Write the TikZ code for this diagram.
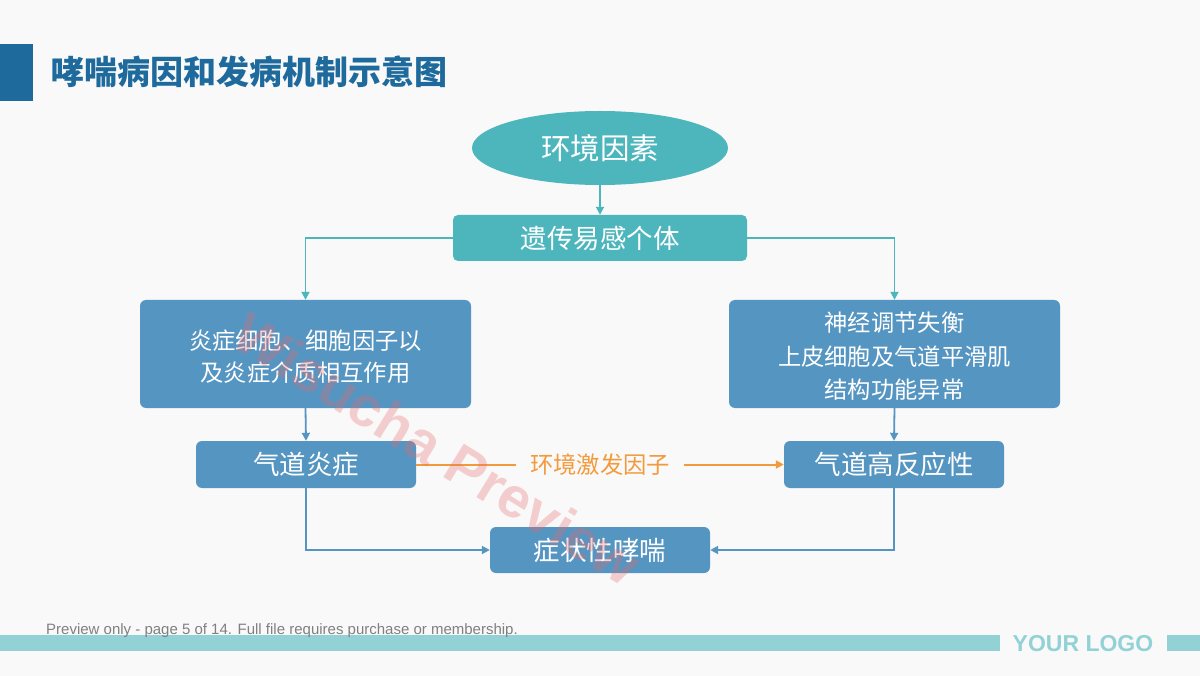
\documentclass[tikz,border=0pt]{standalone}
\usepackage{fontspec}
\setmainfont{Liberation Sans}
\newfontfamily\cjk{Noto Sans CJK SC}
\usetikzlibrary{arrows.meta,shapes.geometric}
\definecolor{bg}{HTML}{F9F9F9}
\definecolor{titleblue}{HTML}{1E6A9C}
\definecolor{tealc}{HTML}{4DB6BD}
\definecolor{bluec}{HTML}{5595C2}
\definecolor{orangec}{HTML}{F39A3C}
\definecolor{logoteal}{HTML}{92D2D6}
\definecolor{wmark}{HTML}{E86A6A}
\tikzset{
  tealbox/.style={fill=tealc, rounded corners=5pt, text=white, inner sep=0pt, font=\cjk\fontsize{26.5}{30}\selectfont},
  bluebox/.style={fill=bluec, rounded corners=6pt, text=white, inner sep=0pt, align=center},
  tealline/.style={draw=tealc, line width=1.8pt, -{Triangle[length=8pt,width=8pt]}},
  blueline/.style={draw=bluec, line width=1.8pt, -{Triangle[length=8pt,width=8pt]}},
  orangeline/.style={draw=orangec, line width=2pt, -{Triangle[length=8pt,width=8pt]}},
}
\begin{document}
\begin{tikzpicture}[x=1pt,y=-1pt]
\useasboundingbox (0,0) rectangle (1200,676);
\fill[bg] (0,0) rectangle (1200,676);
% header
\fill[titleblue] (0,44) rectangle (33,101);
\node[anchor=west, inner sep=0pt, text=titleblue, font=\cjk\bfseries\fontsize{33}{36}\selectfont] (title) at (51,72) {哮喘病因和发病机制示意图};
% nodes
\node[ellipse, fill=tealc, minimum width=256pt, minimum height=74pt, inner sep=0pt, text=white, font=\cjk\fontsize{29.5}{32}\selectfont] (env) at (600,148) {环境因素};
\node[tealbox, minimum width=294pt, minimum height=46pt] (gene) at (600,238) {遗传易感个体};
\node[bluebox, minimum width=331pt, minimum height=108pt] (lbox) at (305.5,354) {};
\node[text=white, inner sep=0pt, align=center, font=\cjk\fontsize{23.3}{32}\selectfont] (ltext) at (305.5,357) {炎症细胞、细胞因子以\\及炎症介质相互作用};
\node[bluebox, minimum width=331pt, minimum height=108pt] (rbox) at (894.5,354) {};
\node[text=white, inner sep=0pt, align=center, font=\cjk\fontsize{23.3}{33.5}\selectfont] (rtext) at (894.5,356.5) {神经调节失衡\\上皮细胞及气道平滑肌\\结构功能异常};
\node[bluebox, minimum width=220pt, minimum height=47pt, font=\cjk\fontsize{26.5}{30}\selectfont] (infl) at (306,464.5) {气道炎症};
\node[bluebox, minimum width=220pt, minimum height=47pt, font=\cjk\fontsize{26.5}{30}\selectfont] (hyper) at (894,464.5) {气道高反应性};
\node[bluebox, minimum width=220pt, minimum height=46pt, font=\cjk\fontsize{26.5}{30}\selectfont] (sym) at (600,550) {症状性哮喘};
% connectors
\draw[tealline] (env.south) -- (gene.north);
\draw[tealline] (gene.west) -| (lbox.north);
\draw[tealline] (gene.east) -| (rbox.north);
\draw[blueline] (lbox.south) -- (infl.north);
\draw[blueline] (rbox.south) -- (hyper.north);
\draw[orangeline] (infl.east) -- node[fill=bg, inner xsep=14pt, inner ysep=2pt, text=orangec, font=\cjk\fontsize{23.3}{26}\selectfont] (trig) {环境激发因子} (hyper.west);
\draw[blueline] (infl.south) |- (sym.west);
\draw[blueline] (hyper.south) |- (sym.east);
% footer
\fill[logoteal] (0,635) rectangle (1000,651);
\fill[logoteal] (1167,635) rectangle (1200,651);
\node[inner sep=0pt, text=logoteal, font=\bfseries\fontsize{23}{26}\selectfont] (logo) at (1083,644) {YOUR LOGO};
\node[anchor=west, inner sep=0pt, text=black!50, font=\fontsize{15}{16}\selectfont] (prev) at (46,631) {Preview only - page 5 of 14. Full file requires purchase or membership.};
% watermark
\node[rotate=-31.6, text=wmark, opacity=0.3, inner sep=0pt, font=\bfseries\fontsize{57}{60}\selectfont] (wm) at (437,449) {Wisucha Preview};
\end{tikzpicture}
\end{document}
